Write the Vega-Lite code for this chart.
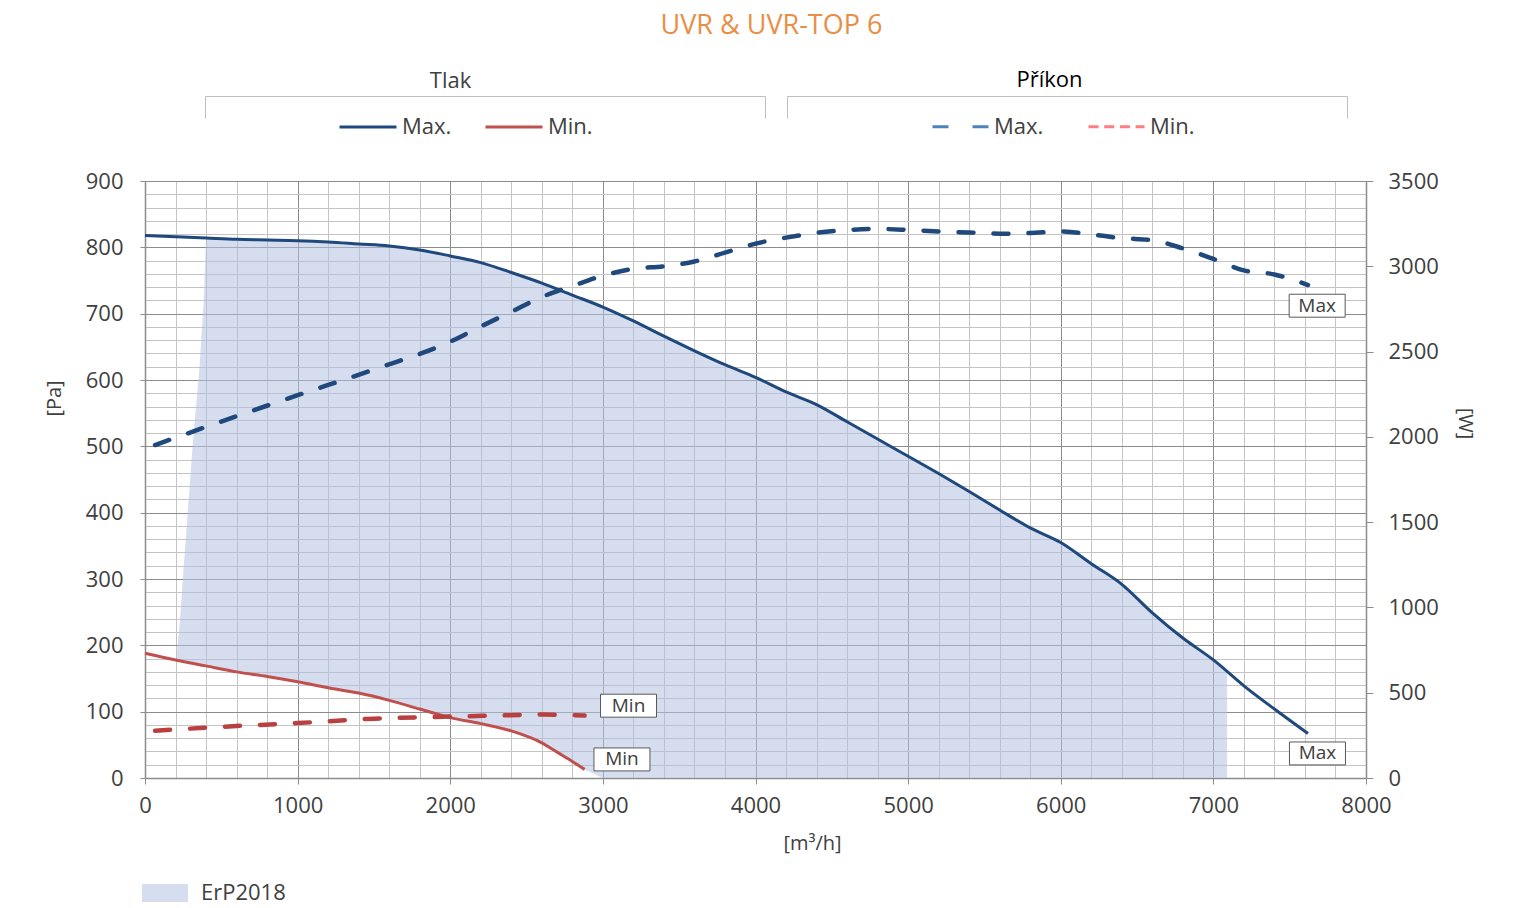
{
  "$schema": "https://vega.github.io/schema/vega-lite/v6.json",
  "width": 1221,
  "height": 597,
  "autosize": {"type": "none"},
  "padding": {"left": 145, "top": 181, "right": 152, "bottom": 130},
  "background": "white",
  "config": {
    "font": "Open Sans",
    "view": {"stroke": null},
    "axis": {"labelFont": "Open Sans", "titleFont": "Open Sans"},
    "legend": {"labelFont": "Open Sans"}
  },
  "title": {
    "text": "UVR & UVR-TOP 6",
    "fontSize": 27,
    "fontWeight": "normal",
    "font": "Open Sans",
    "color": "#E98E45",
    "anchor": "middle",
    "frame": "group",
    "dx": 16,
    "offset": 29
  },
  "datasets": {
    "tlak": [
      {"krivka": "Max.", "q": 0, "pa": 818}, {"krivka": "Max.", "q": 200, "pa": 816}, {"krivka": "Max.", "q": 400, "pa": 814},
      {"krivka": "Max.", "q": 600, "pa": 812}, {"krivka": "Max.", "q": 800, "pa": 811}, {"krivka": "Max.", "q": 1000, "pa": 810},
      {"krivka": "Max.", "q": 1200, "pa": 808}, {"krivka": "Max.", "q": 1400, "pa": 805}, {"krivka": "Max.", "q": 1600, "pa": 802},
      {"krivka": "Max.", "q": 1800, "pa": 796}, {"krivka": "Max.", "q": 2000, "pa": 787}, {"krivka": "Max.", "q": 2200, "pa": 777},
      {"krivka": "Max.", "q": 2400, "pa": 762}, {"krivka": "Max.", "q": 2600, "pa": 746}, {"krivka": "Max.", "q": 2800, "pa": 728},
      {"krivka": "Max.", "q": 3000, "pa": 710}, {"krivka": "Max.", "q": 3200, "pa": 689}, {"krivka": "Max.", "q": 3400, "pa": 666},
      {"krivka": "Max.", "q": 3600, "pa": 644}, {"krivka": "Max.", "q": 3800, "pa": 623}, {"krivka": "Max.", "q": 4000, "pa": 604},
      {"krivka": "Max.", "q": 4200, "pa": 582}, {"krivka": "Max.", "q": 4400, "pa": 563}, {"krivka": "Max.", "q": 4600, "pa": 537},
      {"krivka": "Max.", "q": 4800, "pa": 511}, {"krivka": "Max.", "q": 5000, "pa": 485}, {"krivka": "Max.", "q": 5200, "pa": 459},
      {"krivka": "Max.", "q": 5400, "pa": 432}, {"krivka": "Max.", "q": 5600, "pa": 404}, {"krivka": "Max.", "q": 5800, "pa": 377},
      {"krivka": "Max.", "q": 6000, "pa": 355}, {"krivka": "Max.", "q": 6200, "pa": 323}, {"krivka": "Max.", "q": 6400, "pa": 292},
      {"krivka": "Max.", "q": 6600, "pa": 249}, {"krivka": "Max.", "q": 6800, "pa": 211}, {"krivka": "Max.", "q": 7000, "pa": 178},
      {"krivka": "Max.", "q": 7200, "pa": 139}, {"krivka": "Max.", "q": 7400, "pa": 104}, {"krivka": "Max.", "q": 7620, "pa": 67},
      {"krivka": "Min.", "q": 0, "pa": 188}, {"krivka": "Min.", "q": 200, "pa": 178}, {"krivka": "Min.", "q": 400, "pa": 169},
      {"krivka": "Min.", "q": 600, "pa": 160}, {"krivka": "Min.", "q": 800, "pa": 153}, {"krivka": "Min.", "q": 1000, "pa": 145},
      {"krivka": "Min.", "q": 1200, "pa": 136}, {"krivka": "Min.", "q": 1400, "pa": 128}, {"krivka": "Min.", "q": 1600, "pa": 117},
      {"krivka": "Min.", "q": 1800, "pa": 104}, {"krivka": "Min.", "q": 2000, "pa": 91}, {"krivka": "Min.", "q": 2200, "pa": 82},
      {"krivka": "Min.", "q": 2400, "pa": 71}, {"krivka": "Min.", "q": 2600, "pa": 53}, {"krivka": "Min.", "q": 2700, "pa": 39},
      {"krivka": "Min.", "q": 2800, "pa": 25}, {"krivka": "Min.", "q": 2880, "pa": 13}
    ],
    "prikon": [
      {"krivka_p": "Max", "q": 66, "w": 1952}, {"krivka_p": "Max", "q": 500, "w": 2090}, {"krivka_p": "Max", "q": 1000, "w": 2244},
      {"krivka_p": "Max", "q": 1500, "w": 2395}, {"krivka_p": "Max", "q": 2000, "w": 2558}, {"krivka_p": "Max", "q": 2200, "w": 2647},
      {"krivka_p": "Max", "q": 2400, "w": 2733}, {"krivka_p": "Max", "q": 2600, "w": 2820}, {"krivka_p": "Max", "q": 2800, "w": 2884},
      {"krivka_p": "Max", "q": 3000, "w": 2945}, {"krivka_p": "Max", "q": 3200, "w": 2985}, {"krivka_p": "Max", "q": 3400, "w": 3000},
      {"krivka_p": "Max", "q": 3600, "w": 3028}, {"krivka_p": "Max", "q": 3800, "w": 3080}, {"krivka_p": "Max", "q": 4000, "w": 3133},
      {"krivka_p": "Max", "q": 4200, "w": 3168}, {"krivka_p": "Max", "q": 4400, "w": 3196}, {"krivka_p": "Max", "q": 4600, "w": 3212},
      {"krivka_p": "Max", "q": 4800, "w": 3219}, {"krivka_p": "Max", "q": 5000, "w": 3213}, {"krivka_p": "Max", "q": 5200, "w": 3204},
      {"krivka_p": "Max", "q": 5400, "w": 3198}, {"krivka_p": "Max", "q": 5600, "w": 3191}, {"krivka_p": "Max", "q": 5800, "w": 3195},
      {"krivka_p": "Max", "q": 6000, "w": 3204}, {"krivka_p": "Max", "q": 6200, "w": 3187}, {"krivka_p": "Max", "q": 6400, "w": 3165},
      {"krivka_p": "Max", "q": 6600, "w": 3153}, {"krivka_p": "Max", "q": 6800, "w": 3105}, {"krivka_p": "Max", "q": 7000, "w": 3043},
      {"krivka_p": "Max", "q": 7200, "w": 2976}, {"krivka_p": "Max", "q": 7400, "w": 2952}, {"krivka_p": "Max", "q": 7620, "w": 2890},
      {"krivka_p": "Min", "q": 66, "w": 277}, {"krivka_p": "Min", "q": 500, "w": 300}, {"krivka_p": "Min", "q": 1000, "w": 322},
      {"krivka_p": "Min", "q": 1500, "w": 348}, {"krivka_p": "Min", "q": 2000, "w": 360}, {"krivka_p": "Min", "q": 2300, "w": 366},
      {"krivka_p": "Min", "q": 2600, "w": 372}, {"krivka_p": "Min", "q": 2880, "w": 366}
    ],
    "erp": [
      {"q": 205, "horni": 178, "dolni": 178}, {"q": 230, "horni": 240, "dolni": 176}, {"q": 247, "horni": 298, "dolni": 175},
      {"q": 280, "horni": 400, "dolni": 174}, {"q": 315, "horni": 510, "dolni": 172}, {"q": 356, "horni": 615, "dolni": 171},
      {"q": 384, "horni": 716, "dolni": 170}, {"q": 400, "horni": 813, "dolni": 169}, {"q": 600, "horni": 812, "dolni": 160},
      {"q": 800, "horni": 811, "dolni": 153}, {"q": 1000, "horni": 810, "dolni": 145}, {"q": 1200, "horni": 808, "dolni": 136},
      {"q": 1400, "horni": 805, "dolni": 128}, {"q": 1600, "horni": 802, "dolni": 117}, {"q": 1800, "horni": 796, "dolni": 104},
      {"q": 2000, "horni": 787, "dolni": 91}, {"q": 2200, "horni": 777, "dolni": 82}, {"q": 2400, "horni": 762, "dolni": 71},
      {"q": 2600, "horni": 746, "dolni": 53}, {"q": 2700, "horni": 737, "dolni": 39}, {"q": 2800, "horni": 728, "dolni": 25},
      {"q": 2880, "horni": 720, "dolni": 13}, {"q": 3000, "horni": 710, "dolni": 0}, {"q": 3200, "horni": 689, "dolni": 0},
      {"q": 3400, "horni": 666, "dolni": 0}, {"q": 3600, "horni": 644, "dolni": 0}, {"q": 3800, "horni": 623, "dolni": 0},
      {"q": 4000, "horni": 604, "dolni": 0}, {"q": 4200, "horni": 582, "dolni": 0}, {"q": 4400, "horni": 563, "dolni": 0},
      {"q": 4600, "horni": 537, "dolni": 0}, {"q": 4800, "horni": 511, "dolni": 0}, {"q": 5000, "horni": 485, "dolni": 0},
      {"q": 5200, "horni": 459, "dolni": 0}, {"q": 5400, "horni": 432, "dolni": 0}, {"q": 5600, "horni": 404, "dolni": 0},
      {"q": 5800, "horni": 377, "dolni": 0}, {"q": 6000, "horni": 355, "dolni": 0}, {"q": 6200, "horni": 323, "dolni": 0},
      {"q": 6400, "horni": 292, "dolni": 0}, {"q": 6600, "horni": 249, "dolni": 0}, {"q": 6800, "horni": 211, "dolni": 0},
      {"q": 7000, "horni": 178, "dolni": 0}, {"q": 7090, "horni": 160, "dolni": 0}
    ],
    "stitky": [
      {"t": "Max", "q": 7680, "pa": 712},
      {"t": "Max", "q": 7682, "pa": 37},
      {"t": "Min", "q": 3168, "pa": 109},
      {"t": "Min", "q": 3125, "pa": 28}
    ]
  },
  "layer": [
    {
      "layer": [
        {
          "layer": [
            {
              "data": {"name": "erp"},
              "mark": {"type": "area", "opacity": 0.55},
              "encoding": {
                "x": {
                  "field": "q", "type": "quantitative",
                  "scale": {"domain": [0, 8000], "nice": false},
                  "axis": {
                    "values": [0,200,400,600,800,1000,1200,1400,1600,1800,2000,2200,2400,2600,2800,3000,3200,3400,3600,3800,4000,4200,4400,4600,4800,5000,5200,5400,5600,5800,6000,6200,6400,6600,6800,7000,7200,7400,7600,7800,8000],
                    "tickCount": 100,
                    "format": "d",
                    "labelExpr": "datum.value % 1000 === 0 ? datum.label : ''",
                    "labelOverlap": false, "labelFlush": false,
                    "labelFontSize": 22, "labelColor": "#404040", "labelPadding": 11,
                    "grid": true,
                    "gridColor": {"condition": {"test": "datum.value % 1000 === 0", "value": "#8c8c8c"}, "value": "#c4c4c4"},
                    "gridWidth": 1,
                    "tickSize": 6, "tickColor": "#8c8c8c",
                    "tickOpacity": {"condition": {"test": "datum.value % 1000 === 0", "value": 1}, "value": 0},
                    "domainColor": "#8c8c8c", "domainWidth": 1.5,
                    "title": "[m³/h]", "titleFontSize": 20, "titleFontWeight": "normal", "titleColor": "#404040",
                    "titleX": 667, "titlePadding": 17
                  }
                },
                "y": {
                  "field": "horni", "type": "quantitative",
                  "scale": {"domain": [0, 900], "nice": false},
                  "axis": {
                    "values": [0,20,40,60,80,100,120,140,160,180,200,220,240,260,280,300,320,340,360,380,400,420,440,460,480,500,520,540,560,580,600,620,640,660,680,700,720,740,760,780,800,820,840,860,880,900],
                    "tickCount": 100,
                    "format": "d",
                    "labelExpr": "datum.value % 100 === 0 ? datum.label : ''",
                    "labelOverlap": false, "labelFlush": false,
                    "labelFontSize": 22, "labelColor": "#404040", "labelPadding": 17,
                    "grid": true,
                    "gridColor": {"condition": {"test": "datum.value % 100 === 0", "value": "#8c8c8c"}, "value": "#c4c4c4"},
                    "gridWidth": 1,
                    "tickSize": 5, "tickColor": "#8c8c8c",
                    "tickOpacity": {"condition": {"test": "datum.value % 100 === 0", "value": 1}, "value": 0},
                    "domainColor": "#8c8c8c", "domainWidth": 1.5,
                    "title": "[Pa]", "titleFontSize": 20, "titleFontWeight": "normal", "titleColor": "#404040",
                    "titleY": 217, "titlePadding": 21
                  }
                },
                "y2": {"field": "dolni"},
                "fill": {
                  "datum": "ErP2018", "type": "nominal",
                  "scale": {"domain": ["ErP2018"], "range": ["#b4c1e0"]},
                  "legend": {
                    "orient": "none", "legendX": -3, "legendY": 689, "title": null,
                    "symbolType": "M-1,-0.39H1V0.39H-1Z", "symbolSize": 2116, "symbolStrokeWidth": 0,
                    "labelFontSize": 22, "labelColor": "#404040", "labelOffset": 13
                  }
                }
              }
            },
            {
              "data": {"name": "tlak"},
              "mark": {"type": "line", "strokeWidth": 3, "interpolate": "monotone"},
              "encoding": {
                "x": {"field": "q", "type": "quantitative"},
                "y": {"field": "pa", "type": "quantitative"},
                "color": {
                  "field": "krivka", "type": "nominal",
                  "scale": {"domain": ["Max.", "Min."], "range": ["#1f497d", "#c0504d"]},
                  "legend": {
                    "orient": "none", "legendX": 193, "legendY": -84, "direction": "horizontal", "title": null,
                    "symbolType": "stroke", "symbolSize": 3249, "symbolStrokeWidth": 3,
                    "labelFontSize": 22, "labelColor": "#404040", "labelOffset": 4, "columnPadding": 27
                  }
                }
              }
            },
            {
              "data": {"name": "stitky"},
              "mark": {"type": "point", "shape": "M-1,-0.41H1V0.41H-1Z", "size": 3136, "filled": true, "fill": "white", "stroke": "#595959", "strokeWidth": 1, "opacity": 1},
              "encoding": {
                "x": {"field": "q", "type": "quantitative"},
                "y": {"field": "pa", "type": "quantitative"}
              }
            },
            {
              "data": {"name": "stitky"},
              "mark": {"type": "text", "fontSize": 19, "color": "#404040", "align": "center", "baseline": "middle"},
              "encoding": {
                "x": {"field": "q", "type": "quantitative"},
                "y": {"field": "pa", "type": "quantitative"},
                "text": {"field": "t"}
              }
            }
          ]
        },
        {
          "layer": [
            {
              "data": {"name": "prikon"},
              "transform": [{"filter": "datum.krivka_p === 'Max'"}],
              "mark": {"type": "line", "strokeWidth": 4.5, "color": "#1f497d", "strokeDash": [15, 20], "strokeCap": "round", "interpolate": "monotone"},
              "encoding": {
                "x": {"field": "q", "type": "quantitative"},
                "y": {
                  "field": "w", "type": "quantitative",
                  "scale": {"domain": [0, 3500], "nice": false},
                  "axis": {
                    "orient": "right",
                    "values": [0, 500, 1000, 1500, 2000, 2500, 3000, 3500],
                    "tickCount": 100,
                    "format": "d", "labelOverlap": false, "labelFlush": false,
                    "grid": false, "tickSize": 7, "tickColor": "#8c8c8c",
                    "domainColor": "#8c8c8c", "domainWidth": 1.5,
                    "labelFontSize": 22, "labelColor": "#404040", "labelPadding": 15,
                    "title": "[W]", "titleFontSize": 20, "titleFontWeight": "normal", "titleColor": "#404040",
                    "titleY": 242, "titlePadding": 16
                  }
                }
              }
            },
            {
              "data": {"name": "prikon"},
              "transform": [{"filter": "datum.krivka_p === 'Min'"}],
              "mark": {"type": "line", "strokeWidth": 4.5, "color": "#b9403f", "strokeDash": [15, 20], "strokeCap": "round", "interpolate": "monotone"},
              "encoding": {
                "x": {"field": "q", "type": "quantitative"},
                "y": {"field": "w", "type": "quantitative"}
              }
            },
            {
              "data": {"name": "prikon"},
              "transform": [{"filter": "false"}],
              "mark": {"type": "line", "strokeWidth": 3},
              "encoding": {
                "x": {"field": "q", "type": "quantitative"},
                "y": {"field": "w", "type": "quantitative"},
                "stroke": {
                  "field": "krivka_p", "type": "nominal",
                  "scale": {"domain": ["Max", "Min"], "range": ["#4f81bd", "#ff7c80"]},
                  "legend": {
                    "orient": "none", "legendX": 786, "legendY": -84, "direction": "horizontal", "title": null,
                    "symbolType": "stroke", "symbolSize": 3136, "symbolStrokeWidth": 3,
                    "labelExpr": "datum.label + '.'",
                    "labelFontSize": 22, "labelColor": "#404040", "labelOffset": 4, "columnPadding": 38
                  }
                },
                "strokeDash": {
                  "field": "krivka_p", "type": "nominal",
                  "scale": {"domain": ["Max", "Min"], "range": [[16, 24], [10, 5.7]]},
                  "legend": {
                    "orient": "none", "legendX": 786, "legendY": -84, "direction": "horizontal", "title": null,
                    "symbolType": "stroke", "symbolSize": 3136, "symbolStrokeWidth": 3,
                    "labelExpr": "datum.label + '.'",
                    "labelFontSize": 22, "labelColor": "#404040", "labelOffset": 4, "columnPadding": 38
                  }
                }
              }
            }
          ]
        }
      ],
      "resolve": {"scale": {"y": "independent"}}
    },
    {
      "data": {"name": "stitky"},
      "transform": [{"filter": "false"}],
      "mark": {"type": "rule"},
      "encoding": {
        "x": {
          "field": "q", "type": "quantitative",
          "scale": {"domain": [0, 1], "range": [60, 620], "nice": false},
          "axis": {
            "orient": "top", "offset": 85, "values": [0, 1], "labels": false, "grid": false,
            "tickSize": -22, "tickColor": "#bfbfbf", "tickWidth": 1,
            "domainColor": "#bfbfbf", "domainWidth": 1,
            "title": "Tlak", "titleX": 305, "titleFontSize": 22, "titleFontWeight": "normal", "titleColor": "#404040", "titlePadding": 3
          }
        }
      }
    },
    {
      "data": {"name": "stitky"},
      "transform": [{"filter": "false"}],
      "mark": {"type": "rule"},
      "encoding": {
        "x": {
          "field": "q", "type": "quantitative",
          "scale": {"domain": [0, 1], "range": [642, 1202], "nice": false},
          "axis": {
            "orient": "top", "offset": 85, "values": [0, 1], "labels": false, "grid": false,
            "tickSize": -22, "tickColor": "#bfbfbf", "tickWidth": 1,
            "domainColor": "#bfbfbf", "domainWidth": 1,
            "title": "Příkon", "titleX": 904, "titleFontSize": 22, "titleFontWeight": "normal", "titleColor": "#000000", "titlePadding": 4
          }
        }
      }
    }
  ],
  "resolve": {"scale": {"x": "independent", "y": "independent"}}
}
